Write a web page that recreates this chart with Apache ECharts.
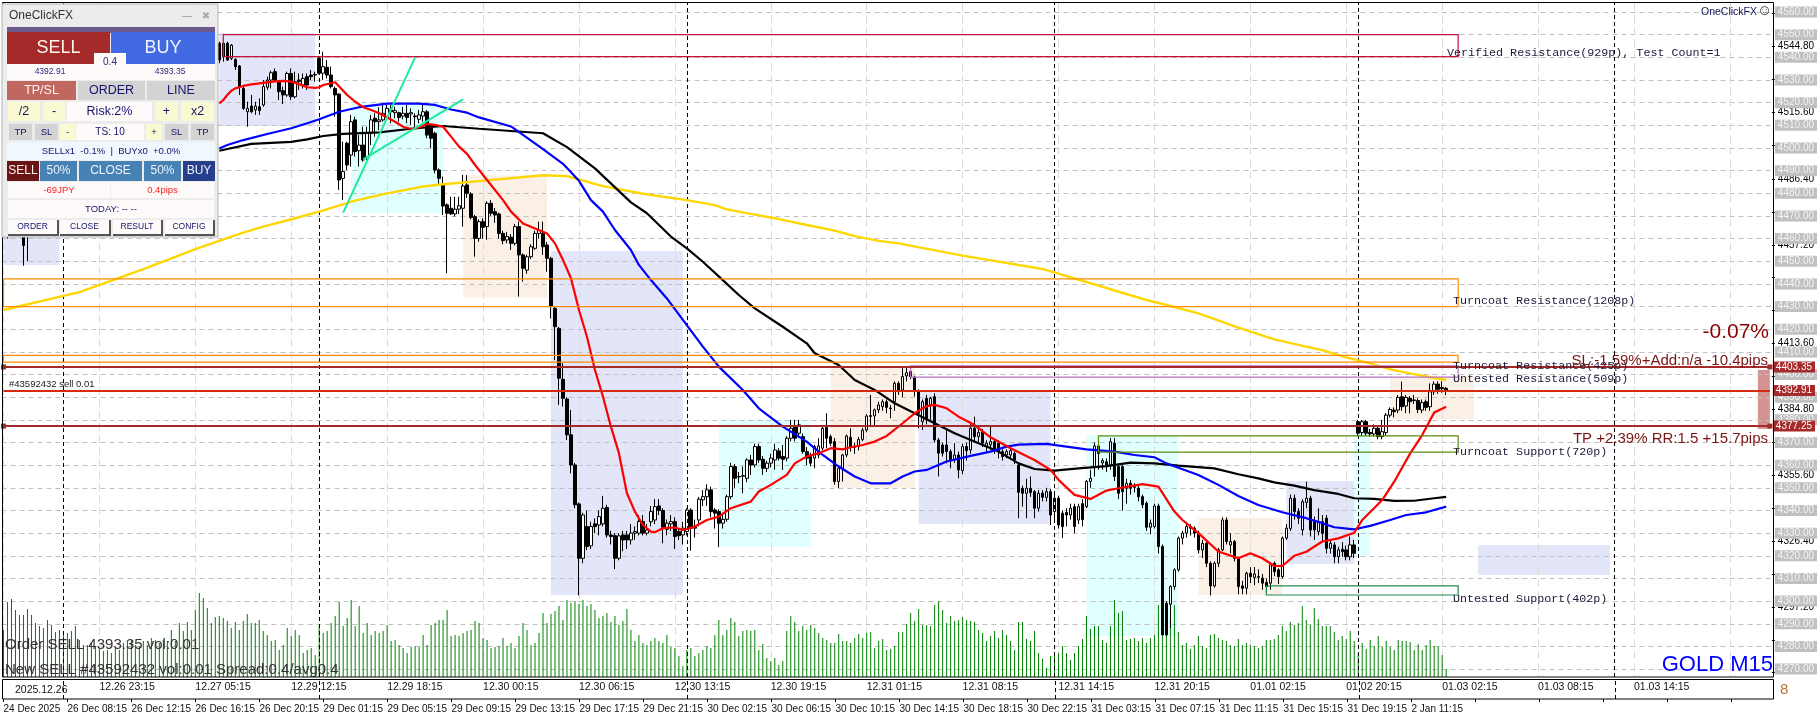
<!DOCTYPE html>
<html>
<head>
<meta charset="utf-8">
<title>GOLD M15</title>
<style>html,body{margin:0;padding:0;background:#fff}#chart{width:1820px;height:720px}</style>
<script src="https://cdn.jsdelivr.net/npm/echarts@6/dist/echarts.min.js"></script>
</head>
<body>
<div id="chart"></div>
<script>
// tick labels
const gridPrices = [4560,4550,4540,4530,4520,4510,4500,4490,4480,4470,4460,4450,4440,4430,4420,4410,4400,4390,4380,4370,4360,4350,4340,4330,4320,4310,4300,4290,4280,4270];
const scaleTicks = [4559.4,4544.8,4530.2,4515.6,4501,4486.4,4471.8,4457.2,4442.8,4428.4,4413.6,4399.2,4384.8,4370.2,4355.6,4341,4326.4,4311.8,4297.2,4282.8,4268.4];
const scalePrices = [4544.8,4515.6,4486.4,4457.2,4413.6,4384.8,4355.6,4326.4,4297.2]; // the rest are hidden under the grey labels
const topTimeLabels = ['','12.26 23:15','12.27 05:15','12.29 12:15','12.29 18:15','12.30 00:15','12.30 06:15','12.30 13:15','12.30 19:15','12.31 01:15','12.31 08:15','12.31 14:15','12.31 20:15','01.01 02:15','01.02 20:15','01.03 02:15','01.03 08:15','01.03 14:15'];
const lowTimeLabels = ['24 Dec 2025','26 Dec 08:15','26 Dec 12:15','26 Dec 16:15','26 Dec 20:15','29 Dec 01:15','29 Dec 05:15','29 Dec 09:15','29 Dec 13:15','29 Dec 17:15','29 Dec 21:15','30 Dec 02:15','30 Dec 06:15','30 Dec 10:15','30 Dec 14:15','30 Dec 18:15','30 Dec 22:15','31 Dec 03:15','31 Dec 07:15','31 Dec 11:15','31 Dec 15:15','31 Dec 19:15','2 Jan 11:15'];
const barCount = 443; // chart runs on past the last candle
const bars = Array.from({length: barCount}, (_, i) => 'b' + i);

// candles behind the panel, only the ones that stick out below it [bar, open, close, low, high]
const earlyCandles = [[1,4468,4464,4460,4470],[3,4470,4466,4462,4472],[5,4463,4457,4448,4468],[6,4468,4463,4450,4470]];
// open, close, low, high, bar 54 onwards
const firstCandle = 54;
const candles = [
[4546.2,4538.8,4537.4,4546.9],[4540.3,4546.2,4538.1,4546.9],[4546.2,4538.8,4538.5,4546.9],[4539.6,4545.4,4538.8,4545.9],[4539.1,4535.9,4534.4,4539.6],[4536.2,4527.1,4523.4,4536.6],
[4526.3,4517.5,4516.8,4527.1],[4516,4517.5,4509.4,4520.4],[4518.5,4516,4515.3,4523.4],[4516.8,4518.5,4514.6,4520.4],[4518.2,4516.5,4514.6,4521.9],[4519,4527.1,4518.2,4530],
[4526.8,4530,4525.6,4531.5],[4530,4533.2,4526.3,4534.1],[4533.7,4530,4529.3,4535.1],[4529.3,4524.9,4521.2,4530],[4525.3,4523.4,4519.4,4527.1],[4523.4,4532.9,4522.6,4533.7],
[4532.9,4522.6,4521.2,4535.1],[4522.6,4529.3,4521.9,4533.7],[4530,4529.3,4525.6,4532.9],[4527.8,4530.7,4526.3,4532.9],[4531.5,4527.8,4525.6,4532.9],[4532.2,4531.5,4530,4534.4],
[4532.2,4532.5,4529.3,4533.7],[4539.6,4533,4532.5,4540],[4533,4535.9,4530,4542.5],[4535.6,4532.2,4530.7,4538.8],[4532.2,4527.1,4526.3,4535.9],[4526.3,4523.4,4513.8,4527.1],
[4523.8,4485.9,4481.5,4524.1],[4486.6,4489.6,4477.1,4502.8],[4502.1,4492.5,4490.3,4502.8],[4496.9,4511.6,4491.8,4514.6],[4512.4,4498.4,4496.2,4513.8],[4498.8,4501.3,4491.8,4505.7],
[4501.3,4494.7,4494,4509.4],[4496.2,4506.5,4494.7,4509.4],[4506.5,4512.4,4501.3,4514.6],[4513.1,4511.6,4505,4515.3],[4511.6,4512.4,4507.9,4518],[4512.4,4515.3,4511.6,4519],
[4513.5,4517.5,4512.5,4519],[4516.8,4516,4510.9,4519],[4515.6,4516.5,4513.1,4518.2],[4515.6,4513.5,4511.6,4516],[4514.1,4515.3,4512.7,4518.2],[4515.3,4513.5,4510.9,4519],
[4515,4515.6,4510.2,4517.5],[4514.1,4513.8,4508.7,4515.3],[4512.7,4514.6,4510.9,4516.8],[4514.1,4516,4511.6,4519],[4516,4505.7,4504.3,4516.8],[4510.2,4504.3,4499.8,4510.9],
[4506.5,4490.3,4488.8,4507.2],[4490.3,4486.6,4483.7,4491],[4483.7,4474.4,4470.4,4487.4],[4474.9,4471.2,4444.7,4475.6],[4473.4,4470.9,4470.5,4478.5],[4470.9,4473,4469.7,4478.5],
[4473,4474.5,4470.9,4478.5],[4473.4,4483.2,4465.3,4488.1],[4483.7,4480,4478,4488],[4479.7,4469.3,4468.5,4480.5],[4469.7,4460.1,4452,4470.5],[4460.1,4467.5,4458.6,4468.5],
[4467.5,4465,4460,4469],[4465.3,4475.6,4459.5,4476.5],[4475.6,4471.2,4470,4477],[4471.9,4470.4,4467,4473.5],[4470.9,4462.3,4460,4471.5],[4462.3,4459.1,4457.5,4463.5],
[4459.4,4460.9,4457.9,4463],[4460.6,4457.9,4455,4462],[4457.9,4465.3,4457,4466.5],[4465.3,4452.8,4434.4,4467.5],[4452.8,4446.9,4441,4453.5],[4446.1,4452,4444.5,4453],
[4452,4456.4,4451,4457.5],[4455.7,4462.3,4455,4463.5],[4462.3,4463.8,4460,4467.5],[4462.3,4456.4,4452.8,4467.5],[4457.2,4451.3,4445.4,4458.5],[4451.3,4430,4424.8,4452],
[4429.2,4421.1,4406.4,4430],[4420.4,4398.4,4386.6,4421],[4397.9,4389.5,4385.9,4405],[4389.2,4373.4,4371.1,4390],[4373.4,4360.1,4356.4,4384.4],[4360.1,4342.5,4341,4361],
[4342.9,4318.9,4302.5,4343.5],[4318.9,4338,4316.7,4339],[4332.9,4324.1,4322.5,4340],[4324.4,4332.9,4323,4335],[4334.1,4332.9,4330,4336.5],[4333.6,4337.3,4329,4340],
[4334.1,4341,4333,4346.4],[4341.3,4329.2,4328,4342.5],[4329.2,4328.5,4325,4331],[4328.9,4318.9,4314.1,4330],[4318.9,4328.8,4318,4330],[4329.2,4327,4322,4331],
[4329.2,4327,4323,4331],[4327,4330,4325,4334],[4330,4330.7,4327,4333],[4330,4335.1,4329,4338],[4335.1,4330,4329,4338],[4330,4331.4,4329,4334],
[4335,4339.5,4333,4342],[4335.8,4341.7,4334,4345],[4342,4340,4338,4345],[4340,4332.6,4325.5,4341],[4331.7,4334.4,4329,4336],[4334.1,4335.1,4331,4338],
[4335.1,4328.5,4323,4337],[4330.7,4328.9,4327,4332],[4329.2,4332.2,4325,4335],[4330.7,4340.2,4329,4341],[4340.2,4332.2,4322.2,4341],[4332.9,4332.2,4328,4336],
[4335.8,4345,4333,4346],[4344.7,4346.1,4342,4349],[4346.1,4349.1,4342,4351.5],[4349.1,4339.5,4337,4350.5],[4340.2,4338.8,4332,4341],[4339.5,4334.4,4323.8,4340.5],
[4334.4,4336.1,4332,4339],[4336.1,4346.1,4335,4347],[4346.1,4359.4,4345,4361],[4359.4,4354.2,4350,4360.5],[4355,4354.8,4352,4357],[4355.1,4355.4,4347.6,4359.4],
[4354.2,4362.3,4352.5,4363],[4362.3,4360.1,4355.7,4364.5],[4360.1,4368.2,4359,4369.5],[4368.2,4362.3,4361,4369.5],[4362.6,4358.6,4355.7,4364],[4358.6,4360.9,4357,4362],
[4360.9,4363.1,4359,4365],[4362.3,4366.7,4358,4369.5],[4366.3,4363.1,4362,4367.5],[4363.8,4362.6,4357.9,4368.9],[4363.1,4371.9,4361.7,4372.8],[4371.9,4376.3,4370.5,4380],
[4377,4371.9,4370.5,4380],[4374.1,4377.8,4372,4380],[4372.6,4366,4365,4374],[4366,4363.1,4360,4368],[4363.8,4360.9,4359.4,4365.5],[4363.1,4368.2,4358.6,4369],
[4364.5,4368.5,4363,4371.9],[4367.5,4376.3,4366.5,4377],[4376.6,4371.9,4367.5,4382.9],[4372.6,4369.7,4368.5,4373.5],[4370.4,4352.8,4351.3,4372],[4352.8,4358.6,4349.8,4359.5],
[4358.6,4364.5,4352.8,4365],[4364.5,4372.9,4363.5,4373.5],[4372.3,4368.2,4366,4376.3],[4368.2,4367.9,4365,4370],[4368.2,4371.4,4366.5,4372.5],[4371.4,4375.5,4370.5,4376.5],
[4375.5,4381.7,4374.5,4382.5],[4381.9,4381.5,4377,4391],[4381.7,4384.4,4377,4385],[4384.4,4386.6,4383,4388],[4385.8,4388,4384,4389],[4388,4385.5,4382.9,4389],
[4385.2,4385,4380.7,4386.5],[4388,4396.1,4384,4397],[4396.1,4393.2,4391,4397],[4393.2,4399.1,4390,4402.8],[4399.4,4400.8,4397,4403],[4401.3,4399.1,4398,4403.5],
[4398.8,4393.2,4390.3,4399.5],[4392.5,4382.9,4376.3,4393.5],[4379.2,4388,4375.5,4389],[4389.5,4380,4378,4391],[4386.6,4389.5,4380,4390.2],[4390.2,4371.1,4370,4391.7],
[4371.1,4365.3,4355,4372],[4368.9,4365.3,4363.8,4370],[4368.9,4366,4360.8,4375.5],[4366,4362.3,4358.6,4367],[4362.6,4364.5,4361,4369.7],[4364.5,4357.9,4354.2,4366],
[4357.6,4368.2,4356,4369.5],[4368.2,4366.4,4362,4370],[4366.7,4376.3,4365,4379.2],[4376.3,4372.6,4370,4381.4],[4372.6,4374.4,4370,4376],[4374.8,4369.7,4368,4376],
[4368.2,4369.7,4366,4371],[4369,4370.4,4366.5,4377.7],[4370.4,4366.7,4365,4371.5],[4369.7,4366,4363,4371],[4366,4363.8,4362,4367],[4364.5,4366,4363,4367],
[4364.5,4366.4,4363,4367.5],[4365.2,4362.3,4360.5,4366],[4360.1,4348,4336.6,4361],[4349.8,4347.6,4341.7,4351],[4347.6,4349.8,4336.6,4354],[4349.8,4347.9,4346,4355],
[4348.3,4341,4336.6,4349],[4341,4347.6,4339.5,4349],[4347.6,4345.8,4344,4349],[4345.8,4348.3,4344,4350],[4348.3,4338,4333.6,4349.5],[4339.5,4345.4,4335,4347],
[4345.4,4333.6,4332,4346.5],[4338.8,4332.9,4327.8,4340],[4339.1,4338,4333,4341],[4338,4341,4336,4343],[4341.7,4332.9,4330,4343],[4335.8,4341.7,4334,4343],
[4343,4336,4333,4345],[4341.7,4352.8,4341,4353.5],[4352.8,4354.2,4350,4358],[4359.4,4368.5,4355,4370],[4368.5,4365.2,4358,4371],[4361,4362,4358,4363],
[4361.5,4360.1,4357,4363],[4360.1,4370.4,4358,4372],[4369.7,4355,4353,4372],[4359.4,4347.6,4345,4360],[4359.4,4348.3,4340,4360],[4349.8,4352,4343,4354],
[4352,4349.8,4347,4353.5],[4350.5,4350.2,4348,4352],[4349.8,4346.1,4344,4351],[4346.1,4342.5,4341,4347],[4343.2,4332.6,4331,4344],[4332.6,4334.4,4329.5,4336],
[4332.9,4342,4332,4343],[4342,4324.1,4321,4343],[4324.1,4285.1,4285,4325],[4299.1,4285.1,4284.5,4300],[4298.6,4306.4,4288,4307],[4306.4,4313.8,4305,4314.5],
[4313.8,4327.8,4313,4328.5],[4327.8,4330,4325,4331],[4330,4332.9,4328,4335],[4332.9,4332.2,4329,4334],[4332.2,4330,4328,4333],[4330,4322.6,4321,4331],
[4322.6,4325.5,4319,4327],[4325.5,4316.7,4315,4326.5],[4316.7,4306.7,4302.5,4317.5],[4306.7,4316.7,4306,4317.5],[4316.7,4322.6,4315,4323.5],[4322.6,4335.8,4322,4337],
[4335.8,4326.3,4325,4337],[4324.8,4326.3,4321,4330],[4326.3,4318.9,4317.5,4327],[4318.9,4306.4,4303,4319.5],[4306.7,4305.7,4303,4309],[4305.7,4312.3,4303,4313],
[4312.3,4310.8,4308,4315],[4310.5,4312,4307,4315],[4310.8,4310.5,4308,4314],[4310.1,4307.9,4305,4312],[4308.2,4306.4,4304,4310],[4307.9,4316,4305,4317],
[4316.7,4313,4311,4317.5],[4313.8,4310.8,4307.5,4314.5],[4310.8,4327.8,4310,4328.5],[4327.8,4332.2,4327,4334],[4332.1,4345.4,4331,4347],[4345.4,4339.5,4336,4347],
[4339.5,4336.6,4334,4341],[4331.4,4343.9,4329,4345],[4343.5,4345.4,4341,4352.7],[4345.4,4331.4,4328.5,4346.5],[4335.1,4331.4,4327,4337.3],[4330.7,4335.1,4329,4341],
[4335.1,4329.9,4326.3,4338],[4336.6,4323.3,4321,4338],[4323.3,4325.5,4321,4327],[4324.8,4319.6,4316.7,4326],[4319.6,4322.6,4316.7,4324],[4322.9,4321.8,4319.6,4326],
[4322.6,4319.6,4318,4324.5],[4319.6,4324.8,4318,4328.5],[4324.8,4321.1,4319,4327],[4379.2,4374.1,4373,4380],[4374.4,4379.2,4372.9,4380],[4379.2,4374.1,4372.9,4380],
[4374.4,4373.8,4372.6,4376],[4373.8,4376.3,4372.6,4378],[4376.3,4372.6,4371.4,4377.5],[4372.6,4374.8,4371.4,4379.9],[4374.4,4382.1,4373,4383],[4382.1,4384.6,4381,4385.5],
[4384.3,4383.6,4381.1,4385.5],[4384.3,4389.9,4383,4391],[4390.2,4385.8,4384,4396.9],[4386.1,4389.9,4383,4391],[4389.5,4388,4382.9,4390.5],[4388.8,4388.5,4387,4391],
[4388.5,4384.6,4383,4389.5],[4384.3,4387.6,4383,4389],[4388,4385.5,4384,4389],[4385.8,4392.4,4384,4396.1],[4392.4,4395.8,4391,4397],[4395.8,4393.5,4391.5,4397],
[4394.3,4393.8,4392,4397],[4393.9,4393.2,4390.9,4394.5]
];

// tick volume per bar, bars 0 to 361
const volumes = [
47,75,78,67,62,62,68,62,54,51,49,57,52,45,47,45,44,46,51,37,32,32,35,31,29,26,27,24,29,27,34,36,37,32,31,36,32,39,37,34,37,36,47,36,
54,46,55,47,67,84,79,69,54,60,61,59,56,49,55,47,56,63,54,54,57,46,42,36,37,27,32,49,41,47,42,24,27,29,22,51,44,46,54,61,75,51,59,77,51,71,
44,54,42,46,44,46,52,36,37,32,29,24,30,31,30,42,32,52,54,57,57,67,41,42,41,44,46,47,56,54,39,37,29,30,31,39,31,34,29,41,54,47,32,34,44,64,
54,63,66,71,57,77,74,76,73,77,71,73,67,59,61,64,55,61,52,56,68,47,36,42,34,32,36,39,36,34,42,30,29,21,11,27,29,21,24,27,31,29,42,57,
42,47,59,55,41,46,47,46,47,27,33,19,16,19,12,16,46,61,55,46,51,47,52,49,44,39,37,34,34,43,36,36,34,39,43,39,44,45,29,36,38,27,28,31,45,45,
53,64,56,68,52,52,51,72,76,67,54,61,56,57,60,57,56,55,47,44,36,41,46,39,47,42,36,27,55,55,38,36,46,24,18,9,21,21,24,31,24,17,24,31,38,
61,48,51,51,37,34,51,77,64,66,37,38,39,36,39,34,39,42,72,77,54,57,72,45,32,34,28,32,41,31,29,42,43,39,37,36,32,31,38,32,34,32,31,29,31,37,37,38,42,
51,46,55,52,54,71,57,52,69,58,51,51,51,45,37,41,38,46,36,24,34,28,37,31,41,30,36,30,27,37,36,36,35,27,33,27,32,37,31,31,22,8
];

// moving averages [bar, price]
const redLine = [[54,4519.7],[55,4521.2],[56,4523.4],[57,4525.3],[58,4526.3],[59,4526.8],[60,4527.4],[62,4528.1],[64,4528.5],[66,4529],[68,4529.4],[70,4529.6],[72,4529.3],[74,4528.2],[76,4526.8],[78,4526.5],[79,4526.8],[80,4527.8],[83,4529],[84,4527.1],[86,4523.4],[88,4520.4],[90,4518],[92,4516.8],[94,4515.3],[96,4513.5],[98,4511.6],[100,4509.4],[102,4508.4],[104,4509.1],[106,4510.6],[108,4510.2],[110,4509.4],[112,4505],[114,4500.6],[116,4497.4],[118,4492.5],[119,4490.3],[125,4477],[127,4471.9],[130,4466.7],[133,4464.5],[136,4462.3],[138,4457.9],[140,4450.6],[142,4442.5],[144,4428.5],[146,4416.7],[148,4402],[150,4390.3],[152,4377],[154,4365.3],[155,4356.4],[156,4347.6],[158,4339.5],[160,4333.6],[162,4330.7],[163,4330.4],[165,4332.2],[168,4332.5],[170,4331.4],[173,4332.9],[176,4335.8],[179,4337.3],[182,4341],[187,4343.9],[189,4348.4],[192,4351.3],[196,4355.7],[198,4360.8],[201,4363.8],[204,4365.3],[207,4367.5],[210,4367],[212,4367.9],[215,4368.9],[218,4370.4],[221,4372.9],[225,4378.5],[228,4382.9],[231,4386.1],[233,4386.6],[236,4385.1],[239,4381.4],[243,4377.7],[247,4372.3],[252,4367.5],[258,4362.3],[262,4357.9],[264,4353.5],[268,4346.9],[272,4345.1],[276,4348.8],[279,4349.8],[285,4351.6],[289,4350.5],[293,4339.5],[295,4335.8],[299,4330],[304,4321.9],[309,4318.9],[312,4321.1],[315,4318.9],[318,4315.5],[320,4315.5],[323,4320],[326,4321.8],[330,4326.3],[334,4327.7],[338,4330.2],[340,4335.8],[345,4344.6],[348,4352.7],[352,4365.2],[355,4373.3],[357,4379.9],[358,4383.2],[361,4385.8]];
const blueLine = [[54,4499.8],[56,4501.3],[60,4503.5],[66,4506.2],[72,4508.7],[76,4510.9],[79,4512.7],[84,4516],[89,4518],[96,4519.6],[104,4519.6],[108,4519],[112,4517],[116,4515.6],[119,4513.5],[127,4509.5],[135,4499.5],[140,4493],[144,4485.5],[147,4477],[150,4471.9],[153,4463.8],[157,4455],[159,4448.4],[162,4441.7],[166,4433.6],[170,4424.1],[175,4412.3],[179,4403.5],[185,4393.2],[189,4385.1],[195,4377],[201,4370.4],[205,4364.5],[209,4359.4],[213,4355],[217,4352],[222,4352],[225,4355],[228,4357.2],[231,4357.9],[236,4361.6],[242,4364.1],[247,4366],[251,4368.2],[254,4369.1],[261,4369.4],[266,4368.2],[271,4367],[278,4366],[283,4364.5],[288,4363.5],[291,4360.8],[294,4358.9],[299,4355.7],[304,4351.3],[309,4346.4],[314,4342.4],[320,4339.2],[326,4336.6],[330,4334.4],[333,4332.6],[338,4331.7],[342,4333.2],[347,4335.8],[351,4338],[356,4339.2],[361,4341.7]];
const blackLine = [[54,4498.8],[62,4501.8],[72,4502.7],[76,4503.8],[80,4505.3],[85,4506.2],[94,4506.9],[102,4508.5],[110,4509.7],[119,4508.5],[135,4506.5],[141,4500.4],[148,4491],[157,4476],[161,4471.2],[167,4460.9],[171,4455.7],[175,4449.8],[180,4441.7],[184,4435.1],[188,4429.2],[195,4421.1],[201,4413.8],[203,4409.4],[209,4404.2],[213,4397.6],[218,4393.2],[223,4387.3],[228,4382.9],[233,4378.5],[238,4374.1],[244,4369.7],[249,4366],[254,4360.8],[258,4358.3],[263,4357.6],[269,4358.6],[276,4359.6],[282,4361.1],[288,4360.8],[294,4359.8],[303,4358.6],[309,4356],[314,4354.2],[318,4352.4],[323,4351],[328,4349],[334,4347.3],[338,4345.4],[343,4345.1],[348,4344.2],[353,4344.3],[358,4345.4],[361,4346]];
const yellowLine = [[0,4428.5],[19,4436.4],[35,4446.5],[48,4455.4],[60,4462.6],[65,4465.3],[73,4469],[79,4471.9],[88,4476.8],[96,4480],[105,4483],[110,4484],[119,4485.4],[135,4488],[141,4487.6],[150,4483.2],[160,4479.8],[171,4477],[178,4474.8],[181,4472.9],[187,4470.9],[193,4469],[197,4467.5],[201,4466],[208,4463.5],[213,4461.1],[219,4459],[224,4457.9],[240,4452.5],[260,4446.6],[286,4432.9],[291,4430.7],[299,4427],[309,4420.7],[318,4415.5],[326,4412.3],[330,4410.8],[336,4407.6],[342,4404.9],[347,4402.3],[352,4400.5],[357,4398.8],[361,4397.6]];
const trendSteep = [[85,4471.5],[103,4540]];
const trendFlat = [[90,4495],[115,4521.5]];

// shaded session zones [fromBar, toBar, priceTop, priceBottom]
const lavenderZones = [[0,14,4475,4448.4],[54,78,4550.7,4509.7],[137,170,4454.5,4302.7],[229,262,4393,4334],[321,338,4353,4316.4],[369,402,4324.8,4311.5]];
const cyanZones = [[87,110,4520,4471.3],[179,202,4380,4324],[271,294,4373.3,4284.7],[338,342,4378.6,4320]];
const peachZones = [[115,136,4488,4434],[207,228,4403,4350],[299,320,4336.7,4302.7],[347,368,4399,4380.4]];
const riskZone = [439,442,4402,4376];

// support and resistance boxes [fromBar, toBar, priceTop, priceBottom, colour]
const levelBoxes = [
  [55,364,4550,4540.3,'#c8103c'],
  [0,364,4442.2,4430,'#ff8c00'],
  [0,364,4408.5,4405.5,'#ff8c00'],
  [227,364,4403.8,4398.9,'#ba70c4'],
  [274,364,4372.9,4365.8,'#5f8a10'],
  [316,364,4306.7,4302.7,'#1f8a50']
];
const orderStop = 4403.35, orderOpen = 4392.91, orderTake = 4377.25;
const periodBars = [15,79,171,263,339,403];

// texts drawn over the plot
const labelFont = '"Liberation Mono"';
const sideTexts = [
  ['Verified Resistance(929p), Test Count=1',1447,53],
  ['Turncoat Resistance(1208p)',1453,301],
  ['Turncoat Resistance(425p)',1453,366],
  ['Untested Resistance(509p)',1453,379],
  ['Turncoat Support(720p)',1453,452],
  ['Untested Support(402p)',1453,599]
];
const plainTexts = [
  ['-0.07%',1769,332,'right',21,'#8b0000'],
  ['SL:-1.59%+Add:n/a -10.4pips',1768,361,'right',15,'#7a1414'],
  ['TP +2.39% RR:1.5 +15.7pips',1768,439,'right',15,'#7a1414'],
  ['GOLD M15',1773,665,'right',22,'#0000ff'],
  ['OneClickFX',1757,12,'right',10.5,'#14145a'],
  ['☺',1757,11,'left',15,'#333333'],
  ['#43592432 sell 0.01',9,384,'left',9.5,'#222222'],
  ['Order SELL 4393.35 vol:0.01',5,645,'left',15,'#333333'],
  ['New SELL #43592432 vol:0.01 Spread:0.4/avg0.4',5,670,'left',15,'#333333'],
  ['2025.12.26',15,690,'left',10.5,'#111111'],
  ['8',1780,690,'left',15,'#b8742a']
];

// order panel cells [x, y, w, h, fill, text, text colour, font size]
const panelCells = [
  [7,27,208,6,'#6b5a8a','','',0],
  [7,32,103,32,'#a52a2a','SELL','#fff5ee',18],
  [111,32,104,32,'#4169e1','BUY','#f0f4ff',18],
  [7,64,208,16,'#fffafa','','',0],
  [30,64,40,16,'#fffafa','4392.91','#2a2a7a',8.5],
  [150,64,40,16,'#fffafa','4393.35','#2a2a7a',8.5],
  [94,53,32,19,'#fffafa','0.4','#2a2a7a',10],
  [7,81,69,19,'#c0675f','TP/SL','#fff5ee',12.5],
  [78,81,67,19,'#d3d3d3','ORDER','#14146a',12.5],
  [147,81,68,19,'#d3d3d3','LINE','#14146a',12.5],
  [8,102,32,19,'#fafad2','/2','#14146a',12.5],
  [43,102,22,19,'#fafad2','-','#14146a',12.5],
  [67,102,85,19,'#fffafa','Risk:2%','#14146a',12.5],
  [155,102,23,19,'#fafad2','+','#14146a',12.5],
  [181,102,33,19,'#fafad2','x2','#14146a',12.5],
  [9,124,23,16,'#d3d3d3','TP','#14146a',9.5],
  [35,124,23,16,'#d3d3d3','SL','#14146a',9.5],
  [60,124,15,16,'#fafad2','-','#14146a',9.5],
  [76,124,68,16,'#fffafa','TS: 10','#14146a',10],
  [146,124,16,16,'#fafad2','+','#14146a',9.5],
  [165,124,23,16,'#d3d3d3','SL','#14146a',9.5],
  [191,124,23,16,'#d3d3d3','TP','#14146a',9.5],
  [7,142,208,18,'#f0f8ff','SELLx1  -0.1%  |  BUYx0  +0.0%','#14146a',9.5],
  [7,161,32,20,'#6b1414','SELL','#fff5ee',12],
  [40,161,37,20,'#4682b4','50%','#f0f4ff',12],
  [79,161,63,20,'#4682b4','CLOSE','#f0f4ff',12],
  [144,161,37,20,'#4682b4','50%','#f0f4ff',12],
  [183,161,32,20,'#27408b','BUY','#f0f4ff',12],
  [8,182,102,16,'#fffafa','-69JPY','#ff2020',9.5],
  [111,182,103,16,'#fffafa','0.4pips','#ff2020',9.5],
  [8,200,206,18,'#fffafa','TODAY: -- --','#14146a',9.5],
  [8,220,51,16,'#555555','','',0],
  [60,220,51,16,'#555555','','',0],
  [113,220,50,16,'#555555','','',0],
  [165,220,50,16,'#555555','','',0],
  [8,220,49,14,'#fffafa','ORDER','#14146a',8.5],
  [60,220,49,14,'#fffafa','CLOSE','#14146a',8.5],
  [113,220,48,14,'#fffafa','RESULT','#14146a',8.5],
  [165,220,48,14,'#fffafa','CONFIG','#14146a',8.5]
];

const candleData = bars.map(() => ['-','-','-','-']);
earlyCandles.forEach((c) => { candleData[c[0]] = c.slice(1); });
candles.forEach((c, i) => { candleData[firstCandle + i] = c; });

function zoneAreas(list) {
  return list.map((z) => [{xAxis: z[0], yAxis: z[2]}, {xAxis: z[1], yAxis: z[3]}]);
}
function maLine(name, points, color, width) {
  return {name, type: 'line', data: points, showSymbol: false, z: 3, silent: true,
    lineStyle: {color, width}, xAxisIndex: 0, yAxisIndex: 0};
}
function zoneSeries(list, color) {
  return {type: 'line', data: [], z: -1, silent: true,
    markArea: {silent: true, z: -1, itemStyle: {color, borderWidth: 0}, data: zoneAreas(list)}};
}
function priceLine(price, color, handle) {
  return [
    {xAxis: 0, yAxis: price, symbol: handle ? 'rect' : 'none', symbolSize: 5, lineStyle: {color, width: 2, type: 'solid'},
      label: {formatter: price.toFixed(2)}},
    {xAxis: barCount - 1, yAxis: price, symbol: handle ? 'rect' : 'none', symbolSize: 5}
  ];
}

const graphics = [
  {type: 'rect', z: 6, shape: {x: 2.5, y: 2.5, width: 1771, height: 674.5}, style: {fill: 'none', stroke: '#000', lineWidth: 1}},
  {type: 'rect', z: 6, shape: {x: 2.5, y: 679.5, width: 1771, height: 19.5}, style: {fill: 'none', stroke: '#000', lineWidth: 1}},
  // panel body
  {type: 'rect', z: 50, shape: {x: 2, y: 4, width: 216, height: 233}, style: {fill: '#ececec', stroke: '#b5b5b5', lineWidth: 1}},
  {type: 'text', z: 51, style: {x: 9, y: 16, text: 'OneClickFX', fill: '#333', font: '12px "Liberation Sans"', verticalAlign: 'middle'}},
  {type: 'text', z: 51, style: {x: 187, y: 16, text: '—', fill: '#999', font: '10px "Liberation Sans"', align: 'center', verticalAlign: 'middle'}},
  {type: 'text', z: 51, style: {x: 206, y: 16, text: '✖', fill: '#aaa', font: '10px "DejaVu Sans"', align: 'center', verticalAlign: 'middle'}}
];
panelCells.forEach((c) => {
  graphics.push({type: 'rect', z: 51, shape: {x: c[0], y: c[1], width: c[2], height: c[3]}, style: {fill: c[4]}});
  if (c[5]) {
    graphics.push({type: 'text', z: 52, style: {x: c[0] + c[2] / 2, y: c[1] + c[3] / 2, text: c[5], fill: c[6],
      font: c[7] + 'px "Liberation Sans"', align: 'center', verticalAlign: 'middle'}});
  }
});
sideTexts.forEach((t) => {
  graphics.push({type: 'text', z: 7, style: {x: t[1], y: t[2], text: t[0], fill: '#1a1a3a',
    font: '11.7px ' + labelFont, verticalAlign: 'middle'}});
});
plainTexts.forEach((t) => {
  graphics.push({type: 'text', z: 7, style: {x: t[1], y: t[2], text: t[0], fill: t[5], align: t[3],
    font: t[4] + 'px "Liberation Sans"', verticalAlign: 'middle'}});
});

var chartDom = document.getElementById('chart');
var myChart = echarts.init(chartDom, null, {renderer: 'canvas'});

var option = {
  animation: false,
  backgroundColor: '#fff',
  graphic: graphics,
  grid: [
    {left: 1.5, top: 3, width: 1772, height: 674, show: false},
    {left: 1.5, top: 679, width: 1772, height: 20, show: false}
  ],
  xAxis: [
    {
      type: 'category', gridIndex: 0, data: bars, position: 'bottom', boundaryGap: true,
      axisLine: {show: false}, axisTick: {show: false},
      axisLabel: {interval: (i) => i % 24 === 0, formatter: (v, i) => topTimeLabels[i / 24] || '',
        align: 'left', margin: 5, fontSize: 10.5, color: '#111', fontFamily: 'Liberation Sans'},
      splitLine: {show: true, interval: (i) => i % 24 === 0, alignWithLabel: true,
        lineStyle: {color: '#dcdcdc', type: [8, 4], width: 1}}
    },
    {
      type: 'category', gridIndex: 1, data: bars, position: 'bottom', boundaryGap: true,
      axisLine: {show: false},
      axisTick: {show: true, interval: (i) => i % 16 === 0, alignWithLabel: true, length: 3, lineStyle: {color: '#000'}},
      axisLabel: {interval: (i) => i % 16 === 0, formatter: (v, i) => lowTimeLabels[i / 16] || '',
        align: 'left', margin: 5, fontSize: 10, color: '#111', fontFamily: 'Liberation Sans'},
      splitLine: {show: false}
    }
  ],
  yAxis: [
    {
      // black scale labels next to the grey grid labels
      type: 'value', gridIndex: 0, position: 'right', min: 4266.5, max: 4564, scale: true,
      axisLine: {show: false},
      axisTick: {show: true, length: 3, customValues: scaleTicks, lineStyle: {color: '#000'}},
      axisLabel: {customValues: scalePrices, formatter: (v) => v.toFixed(2), margin: 6, fontSize: 10, color: '#000', fontFamily: 'Liberation Sans'},
      splitLine: {show: false}
    },
    {
      // volume scale, sits on the same plot
      type: 'value', gridIndex: 0, position: 'left', min: 0, max: 674, show: false, splitLine: {show: false}
    },
    {
      type: 'value', gridIndex: 0, position: 'right', min: 4266.5, max: 4564, scale: true,
      axisLine: {show: false},
      axisTick: {show: false, customValues: gridPrices},
      axisLabel: {customValues: gridPrices, formatter: (v) => v.toFixed(2), margin: 3, fontSize: 10, color: '#f4f4f4',
        backgroundColor: '#c0c0c0', padding: [1, 3, 0, 3], fontFamily: 'Liberation Sans'},
      splitLine: {show: true, lineStyle: {color: '#c0c0c0', type: [5, 4], width: 1}}
    },
    {type: 'value', gridIndex: 1, min: 0, max: 1, show: false, splitLine: {show: false}}
  ],
  series: [
    zoneSeries(lavenderZones, '#e3e5f8'),
    zoneSeries(cyanZones, '#e0ffff'),
    zoneSeries(peachZones, '#faf0e6'),
    zoneSeries([riskZone], '#d39393'),
    {
      name: 'Volume', type: 'bar', data: volumes, xAxisIndex: 0, yAxisIndex: 1, barWidth: 1, z: 1, silent: true,
      itemStyle: {color: '#008000'}
    },
    {
      name: 'GOLD', type: 'candlestick', data: candleData, xAxisIndex: 0, yAxisIndex: 0, barWidth: 3, z: 2, silent: true,
      itemStyle: {color: '#ffffff', color0: '#000000', borderColor: '#000000', borderColor0: '#000000', borderWidth: 1}
    },
    maLine('Yellow', yellowLine, '#ffd700', 2.4),
    maLine('Black', blackLine, '#000000', 2.2),
    maLine('Blue', blueLine, '#0000ff', 2.2),
    maLine('Red', redLine, '#ff0000', 2.2),
    maLine('Trend 1', trendSteep, '#1eea9a', 2),
    maLine('Trend 2', trendFlat, '#1eea9a', 2),
    {
      type: 'line', data: [], z: 4, silent: true,
      markArea: {
        silent: true, z: 4,
        data: levelBoxes.map((b) => [
          {xAxis: b[0], yAxis: b[2], itemStyle: {color: 'rgba(0,0,0,0)', borderColor: b[4], borderWidth: 1.2}},
          {xAxis: b[1], yAxis: b[3]}
        ])
      }
    },
    {
      type: 'line', data: [], z: 5, silent: true,
      markLine: {
        silent: true, z: 5, symbol: 'none',
        label: {show: true, position: 'end', distance: 3, color: '#fff', fontSize: 10,
          backgroundColor: '#a52a2a', padding: [1, 3, 0, 3], fontFamily: 'Liberation Sans'},
        data: [priceLine(orderStop, '#a52a2a', true), priceLine(orderOpen, '#d62a10', false), priceLine(orderTake, '#a52a2a', true)]
      }
    },
    {
      type: 'line', data: [], z: 3, silent: true,
      markLine: {
        silent: true, z: 3, symbol: 'none', label: {show: false},
        lineStyle: {color: '#000', type: [4, 3], width: 1},
        data: periodBars.map((b) => ({xAxis: b}))
      }
    },
    {
      type: 'line', data: [], xAxisIndex: 1, yAxisIndex: 3, z: 3, silent: true,
      markLine: {
        silent: true, z: 3, symbol: 'none', label: {show: false},
        lineStyle: {color: '#000', type: [4, 3], width: 1},
        data: periodBars.map((b) => ({xAxis: b}))
      }
    }
  ]
};

option && myChart.setOption(option);
</script>
</body>
</html>
